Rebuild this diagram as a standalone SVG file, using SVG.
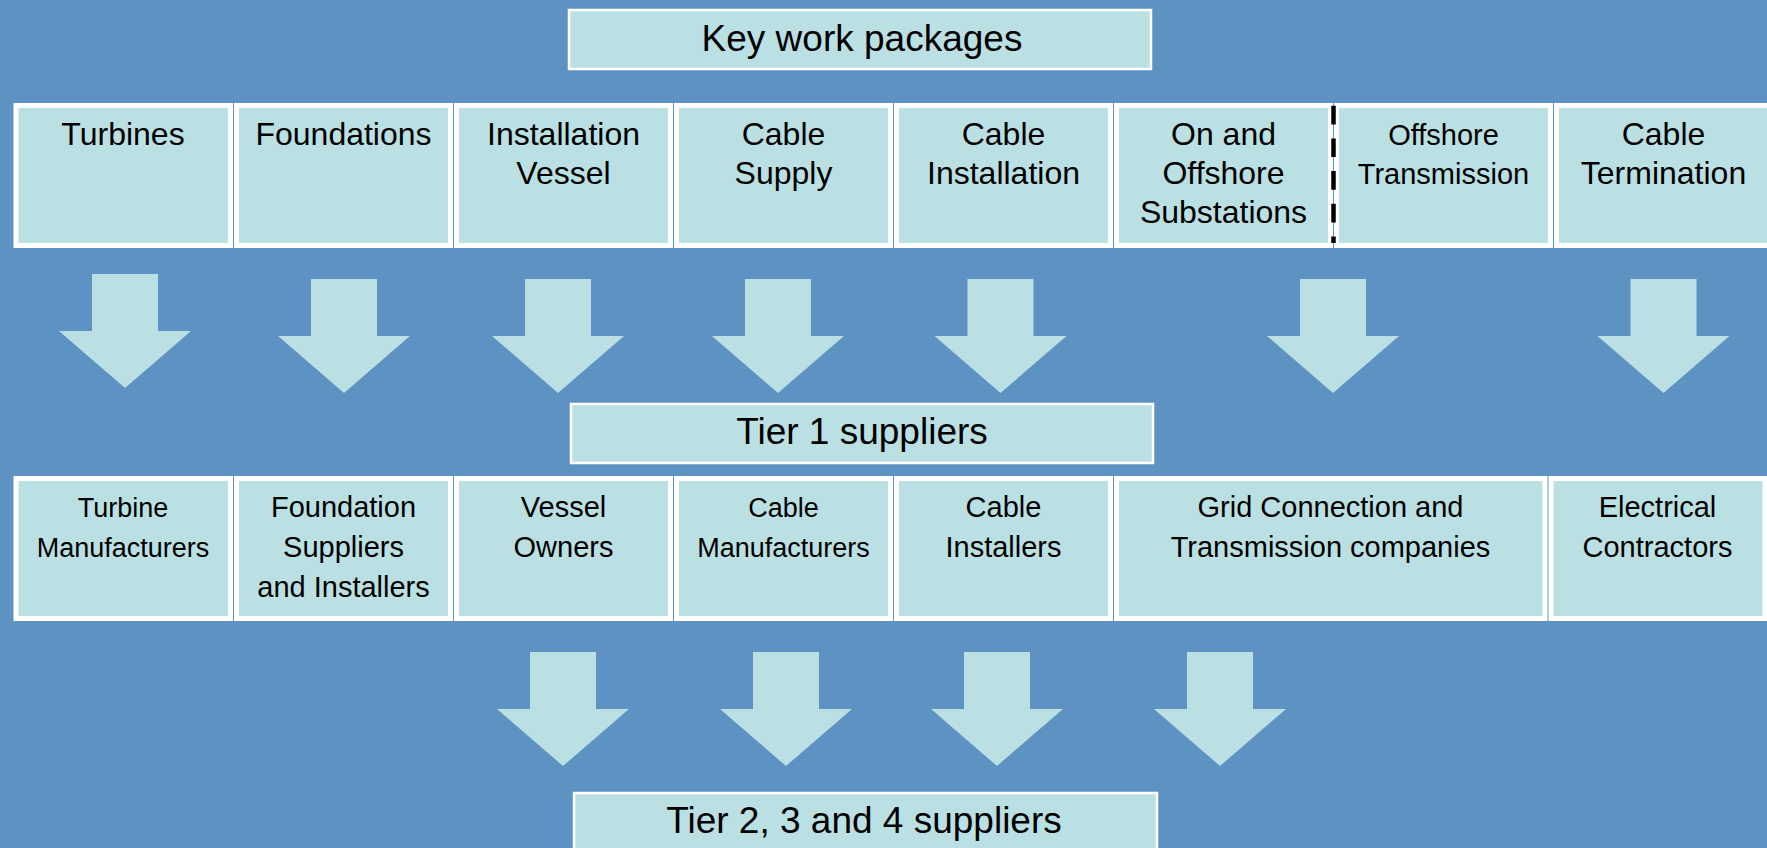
<svg xmlns="http://www.w3.org/2000/svg" xmlns:xlink="http://www.w3.org/1999/xlink" width="1767" height="848" viewBox="0 0 1767 848">
<style>
.bg{fill:#5E92C3}
.cell{fill:#BAE0E3;stroke:#FFFFFF;stroke-width:5}
.hdr{fill:#BAE0E3;stroke:#FFFFFF;stroke-width:2.5}
.arrow{fill:#BAE0E3}
text{font-family:"Liberation Sans",Arial,sans-serif;fill:#000000;text-anchor:middle}
.t37{font-size:37px}
.t32{font-size:32px}
.t29{font-size:29px}
.t27{font-size:27px}
.dash{stroke:#000000;stroke-width:4.5;stroke-dasharray:18.7 14;fill:none}
</style>
<defs>
<path id="arr" d="M-33,0 H33 V57 H66 L0,114 L-66,57 H-33 Z"/>
</defs>
<rect class="bg" x="0" y="0" width="1767" height="848"/>

<g id="key-work-packages">
<rect class="hdr" x="569" y="10" width="582" height="59"/>
<text class="t37" x="862" y="50.5">Key work packages</text>
</g>

<g id="turbines">
<rect class="cell" x="16" y="105.5" width="214.5" height="140"/>
<text class="t32" x="123" y="144.5">Turbines</text>
</g>
<g id="foundations">
<rect class="cell" x="236.5" y="105.5" width="214" height="140"/>
<text class="t32" x="343.5" y="144.5">Foundations</text>
</g>
<g id="installation-vessel">
<rect class="cell" x="456.5" y="105.5" width="214" height="140"/>
<text class="t32" x="563.5" y="144.5">Installation</text>
<text class="t32" x="563.5" y="183.5">Vessel</text>
</g>
<g id="cable-supply">
<rect class="cell" x="676.5" y="105.5" width="214" height="140"/>
<text class="t32" x="783.5" y="144.5">Cable</text>
<text class="t32" x="783.5" y="183.5">Supply</text>
</g>
<g id="cable-installation">
<rect class="cell" x="896.5" y="105.5" width="214" height="140"/>
<text class="t32" x="1003.5" y="144.5">Cable</text>
<text class="t32" x="1003.5" y="183.5">Installation</text>
</g>
<g id="on-offshore-substations">
<rect class="cell" x="1116.5" y="105.5" width="214" height="140"/>
<text class="t32" x="1223.5" y="144.5">On and</text>
<text class="t32" x="1223.5" y="183.5">Offshore</text>
<text class="t32" x="1223.5" y="223">Substations</text>
</g>
<g id="offshore-transmission">
<rect class="cell" x="1336.5" y="105.5" width="214" height="140"/>
<text class="t29" x="1443.5" y="145">Offshore</text>
<text class="t29" x="1443.5" y="184">Transmission</text>
</g>
<g id="cable-termination">
<rect class="cell" x="1556.5" y="105.5" width="214" height="140"/>
<text class="t32" x="1663.5" y="144.5">Cable</text>
<text class="t32" x="1663.5" y="183.5">Termination</text>
</g>
<g id="divider">
<line class="dash" x1="1333.5" y1="105.7" x2="1333.5" y2="243"/>
</g>

<g id="tier-1-suppliers">
<rect class="hdr" x="571" y="404" width="582" height="59"/>
<text class="t37" x="862" y="444">Tier 1 suppliers</text>
</g>

<g id="turbine-manufacturers">
<rect class="cell" x="16" y="478.5" width="214.5" height="140"/>
<text class="t27" x="123" y="516.7">Turbine</text>
<text class="t27" x="123" y="556.7">Manufacturers</text>
</g>
<g id="foundation-suppliers">
<rect class="cell" x="236.5" y="478.5" width="214" height="140"/>
<text class="t29" x="343.5" y="516.7">Foundation</text>
<text class="t29" x="343.5" y="556.7">Suppliers</text>
<text class="t29" x="343.5" y="596.7">and Installers</text>
</g>
<g id="vessel-owners">
<rect class="cell" x="456.5" y="478.5" width="214" height="140"/>
<text class="t29" x="563.5" y="516.7">Vessel</text>
<text class="t29" x="563.5" y="556.7">Owners</text>
</g>
<g id="cable-manufacturers">
<rect class="cell" x="676.5" y="478.5" width="214" height="140"/>
<text class="t27" x="783.5" y="516.7">Cable</text>
<text class="t27" x="783.5" y="556.7">Manufacturers</text>
</g>
<g id="cable-installers">
<rect class="cell" x="896.5" y="478.5" width="214" height="140"/>
<text class="t29" x="1003.5" y="516.7">Cable</text>
<text class="t29" x="1003.5" y="556.7">Installers</text>
</g>
<g id="grid-transmission-companies">
<rect class="cell" x="1116.5" y="478.5" width="428.5" height="140"/>
<text class="t29" x="1330.5" y="516.7">Grid Connection and</text>
<text class="t29" x="1330.5" y="556.7">Transmission companies</text>
</g>
<g id="electrical-contractors">
<rect class="cell" x="1551" y="478.5" width="214" height="140"/>
<text class="t29" x="1657.5" y="516.7">Electrical</text>
<text class="t29" x="1657.5" y="556.7">Contractors</text>
</g>

<g id="tier-2-3-4-suppliers">
<rect class="hdr" x="574" y="793" width="583" height="62"/>
<text class="t37" x="864" y="833">Tier 2, 3 and 4 suppliers</text>
</g>

<g id="connectors">
<use xlink:href="#arr" class="arrow" transform="translate(125,274)"/>
<use xlink:href="#arr" class="arrow" transform="translate(344,279)"/>
<use xlink:href="#arr" class="arrow" transform="translate(558,279)"/>
<use xlink:href="#arr" class="arrow" transform="translate(778,279)"/>
<use xlink:href="#arr" class="arrow" transform="translate(1000.5,279)"/>
<use xlink:href="#arr" class="arrow" transform="translate(1333,279)"/>
<use xlink:href="#arr" class="arrow" transform="translate(1663.5,279)"/>
<use xlink:href="#arr" class="arrow" transform="translate(563,652)"/>
<use xlink:href="#arr" class="arrow" transform="translate(786,652)"/>
<use xlink:href="#arr" class="arrow" transform="translate(997,652)"/>
<use xlink:href="#arr" class="arrow" transform="translate(1220,652)"/>
</g>
</svg>
